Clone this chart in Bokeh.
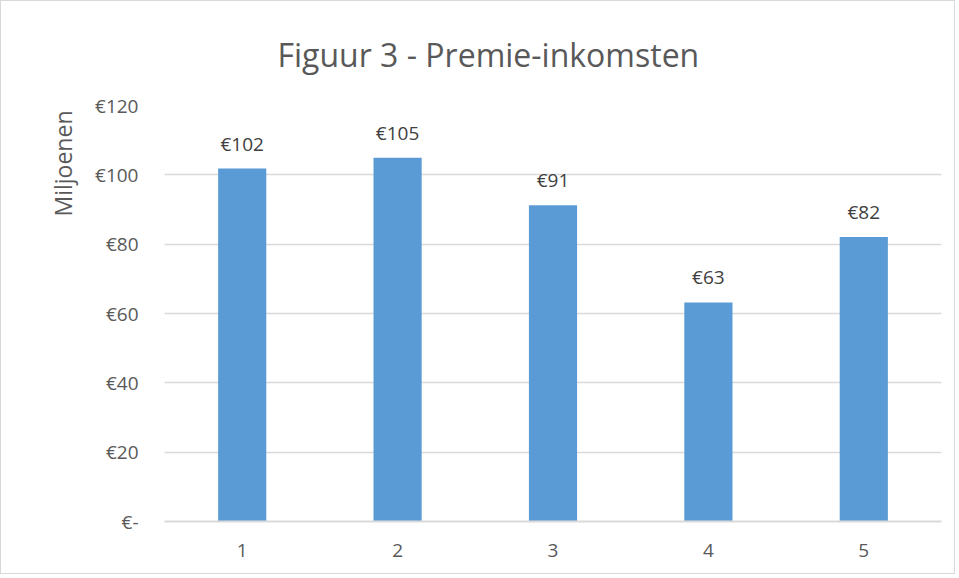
from bokeh.plotting import figure
from bokeh.models import Range1d, FixedTicker, ColumnDataSource, LabelSet, Title
from bokeh.embed import file_html
from bokeh.resources import INLINE
from bokeh.core.properties import value

categories = ["1", "2", "3", "4", "5"]
values = [101.8, 104.9, 91.2, 63.2, 82.1]
value_labels = ["€102", "€105", "€91", "€63", "€82"]
y_ticks = [0, 20, 40, 60, 80, 100, 120]
y_tick_labels = ["€-", "€20", "€40", "€60", "€80", "€100", "€120"]

FONT = "Open Sans"
GREY = "#595959"

xs = list(range(1, len(categories) + 1))
src = ColumnDataSource(dict(x=xs, top=values, lab=value_labels))

p = figure(width=955, height=574, output_backend="svg", toolbar_location=None,
           x_range=Range1d(0.5, 5.5), y_range=Range1d(0, 120),
           min_border_left=163, min_border_right=15, min_border_top=103, min_border_bottom=54)
p.styles = {"border": "1px solid #d9d9d9"}
p.outline_line_color = None
p.background_fill_color = "white"
p.border_fill_color = "white"

p.vbar(x="x", top="top", width=0.31, source=src, fill_color="#5B9BD5", line_color=None)

p.xaxis.ticker = FixedTicker(ticks=xs)
p.xaxis.major_label_overrides = {x: c for x, c in zip(xs, categories)}
p.yaxis.ticker = FixedTicker(ticks=y_ticks)
p.yaxis.major_label_overrides = {t: l for t, l in zip(y_ticks, y_tick_labels)}
for ax in (p.xaxis, p.yaxis):
    ax.major_tick_line_color = None
    ax.minor_tick_line_color = None
    ax.major_label_text_font = FONT
    ax.major_label_text_color = GREY
    ax.major_label_text_font_size = "19px"
p.xaxis.axis_line_color = "#d9d9d9"
p.xaxis.axis_line_width = 2
p.yaxis.axis_line_color = None
p.yaxis.major_label_standoff = 20
p.xaxis.major_label_standoff = 16
p.xgrid.grid_line_color = None
p.ygrid.grid_line_color = "#d9d9d9"
p.ygrid.grid_line_width = 1.5

labels = LabelSet(x="x", y="top", text="lab", source=src, text_align="center",
                  text_baseline="bottom", y_offset=12, text_font=value(FONT),
                  text_font_size="19px", text_color="#404040")
p.add_layout(labels)

p.add_layout(Title(text="Miljoenen", align="right", offset=5, text_font=FONT,
                   text_font_size="23px", text_font_style="normal", text_color=GREY,
                   standoff=27), "left")

p.add_layout(Title(text="Figuur 3 - Premie-inkomsten", align="left", offset=113, text_font=FONT,
                   text_font_size="32px", text_font_style="normal", text_color=GREY,
                   standoff=59), "above")

open("out.html", "w").write(file_html(p, INLINE))
